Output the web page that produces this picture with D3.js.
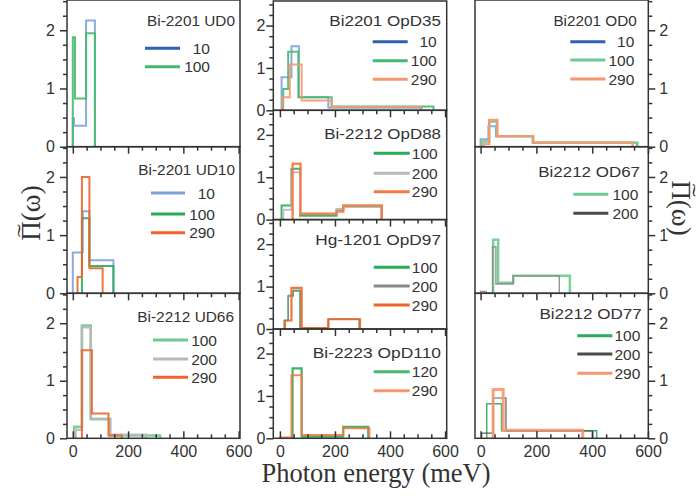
<!DOCTYPE html>
<html><head><meta charset="utf-8">
<script src="https://cdn.jsdelivr.net/npm/d3@7"></script>
<style>body{margin:0;background:#fff}svg{display:block}</style>
</head><body>
<svg id="c" width="700" height="496"></svg>
<script>
// ---------------- DATA ----------------
const xTickMajor = [0, 200, 400, 600];
const yTickMajor = [0, 1, 2];
const xLabel = "Photon energy (meV)";
const yLabelMain = "\u03A0(\u03C9)";
const yLabelTilde = "\u02DC";

const titles = ["Bi-2201 UD0","Bi-2201 UD10","Bi-2212 UD66",
  "Bi2201 OpD35","Bi-2212 OpD88","Hg-1201 OpD97","Bi-2223 OpD110",
  "Bi2201 OD0","Bi2212 OD67","Bi2212 OD77"];

// bin edges (meV) and heights, one pair per curve
const ud0_10_e = [0, 4, 48, 80],            ud0_10_v = [0.49, 0.36, 2.17];
const ud0_100_e = [0, 8, 48, 80],           ud0_100_v = [1.88, 0.83, 1.95];

const ud10_10_e = [0, 36, 60, 147],         ud10_10_v = [0.70, 1.41, 0.57];
const ud10_100_e = [33, 60, 147],           ud10_100_v = [1.29, 0.47];
const ud10_290_e = [17, 33, 60, 108],       ud10_290_v = [0.28, 2.00, 0.43];

const ud66_100_e = [5, 33, 65, 135, 316],   ud66_100_v = [0.20, 1.96, 0.33, 0.05];
const ud66_200_e = [10, 33, 65, 135, 265],  ud66_200_v = [0.15, 1.93, 0.34, 0.06];
const ud66_290_e = [33, 69, 129, 177],      ud66_290_v = [1.53, 0.43, 0.05];

const op35_10_e = [6, 42, 69, 176, 515],    op35_10_v = [0.78, 1.51, 0.31, 0.06];
const op35_100_e = [12, 30, 67, 188, 558],  op35_100_v = [0.50, 1.38, 0.31, 0.09];
const op35_290_e = [10, 36, 79, 188, 511],  op35_290_v = [0.31, 1.08, 0.23, 0.08];

const op88_100_e = [6, 42, 73, 206, 230, 370],  op88_100_v = [0.33, 1.20, 0.09, 0.23, 0.31];
const op88_200_e = [12, 42, 73, 206, 230, 370], op88_200_v = [0.23, 1.12, 0.14, 0.25, 0.31];
const op88_290_e = [46, 75, 206, 230, 370],     op88_290_v = [1.32, 0.14, 0.19, 0.33];

const op97_100_e = [16, 30, 48, 73, 176, 288], op97_100_v = [0.20, 0.78, 0.90, 0.02, 0.23];
const op97_200_e = [18, 30, 48, 75, 176, 290], op97_200_v = [0.20, 0.80, 0.92, 0.02, 0.23];
const op97_290_e = [18, 42, 79, 176, 291],     op97_290_v = [0.20, 0.97, 0.02, 0.23];

const op110_120_e = [46, 79, 230, 321],       op110_120_v = [1.65, 0.04, 0.27];
const op110_290_e = [0, 42, 79, 230, 325],    op110_290_v = [0.02, 1.49, 0.08, 0.24];

const od0_10_e = [0, 28, 55, 187, 560],       od0_10_v = [0.13, 0.35, 0.18, 0.07];
const od0_100_e = [4, 31, 58, 187, 562],      od0_100_v = [0.09, 0.43, 0.18, 0.07];
const od0_290_e = [10, 31, 60, 189, 545],     od0_290_v = [0.05, 0.46, 0.18, 0.07];

const od67_100_e = [45, 63, 117, 320],        od67_100_v = [0.92, 0.18, 0.30];
const od67_200_e = [0, 20, 43, 55, 117, 282], od67_200_v = [0.03, 0, 0.80, 0.16, 0.30];

const od77_100_e = [22, 75, 416],             od77_100_v = [0.60, 0.13];
const od77_200_e = [4, 45, 91, 400],          od77_200_v = [0.09, 0.70, 0.13];
const od77_290_e = [45, 81, 366],             od77_290_v = [0.85, 0.14];

// ---------------- STYLE / LAYOUT ----------------
const C = {
  blueD:'#2d62b3', blueL:'#7fa2da', green:'#27ad5a', greenM:'#45b96f', greenL:'#6ccb8e',
  orange:'#f0642a', orangeM:'#f47a45', orangeL:'#f6976f', grayL:'#b8b8b8', grayM:'#8a8a8a', grayD:'#4a4a4a'
};
const cols = [
  {x0:67,    x1:240,   dom:[-21,605], ymax:2.52, rows:[0,146.7,293.3,438.3], side:'left',  pad:12},
  {x0:273.3, x1:446.7, dom:[-24,606], ymax:2.58, rows:[1,110.3,219.6,329,438.3], side:'left', pad:8},
  {x0:475,   x1:648.3, dom:[-20,601], ymax:2.52, rows:[0,146.7,293.3,438.3], side:'right', pad:11}
];
function S(label,e,v,c,w){return {label,e,v,c,w:w||2};}
const panels = [
 {col:0,row:0,title:titles[0],tw:88,  tY:20.7,tEnd:5,  lr:[48.3,66.7],      l0:95,l1:60,lEnd:30,
  series:[S('10',ud0_10_e,ud0_10_v,C.blueL,2), S('100',ud0_100_e,ud0_100_v,C.greenM,2)], lc:[C.blueD,C.greenM]},
 {col:0,row:1,title:titles[1],tw:96.7,tY:22.6,tEnd:5,  lr:[46.3,67.3,86],   l0:89,l1:55,lEnd:25,
  series:[S('10',ud10_10_e,ud10_10_v,C.blueL), S('100',ud10_100_e,ud10_100_v,C.green), S('290',ud10_290_e,ud10_290_v,C.orange)]},
 {col:0,row:2,title:titles[2],tw:96.7,tY:22.7,tEnd:6,  lr:[46.7,65.7,84],   l0:87,l1:52,lEnd:23,
  series:[S('100',ud66_100_e,ud66_100_v,C.greenL,2.5), S('200',ud66_200_e,ud66_200_v,C.grayL,2.5), S('290',ud66_290_e,ud66_290_v,C.orange)]},
 {col:1,row:0,title:titles[3],tw:111.7,tY:19,  tEnd:5.7,lr:[40.7,59.7,78.3], l0:74,l1:39,lEnd:10,
  series:[S('10',op35_10_e,op35_10_v,C.blueL), S('100',op35_100_e,op35_100_v,C.greenM), S('290',op35_290_e,op35_290_v,C.orangeL)], lc:[C.blueD,C.greenM,C.orangeL]},
 {col:1,row:1,title:titles[4],tw:116.7,tY:23,  tEnd:5.7,lr:[43,63,81.4],     l0:73,l1:37,lEnd:9,
  series:[S('100',op88_100_e,op88_100_v,C.green), S('200',op88_200_e,op88_200_v,C.grayL), S('290',op88_290_e,op88_290_v,C.orangeM,2.5)]},
 {col:1,row:2,title:titles[5],tw:125.7,tY:19.7,tEnd:5.7,lr:[47.7,66.4,85.4], l0:73,l1:37,lEnd:9,
  series:[S('100',op97_100_e,op97_100_v,C.green,1.6), S('200',op97_200_e,op97_200_v,C.grayM,1), S('290',op97_290_e,op97_290_v,C.orange,2.2)]},
 {col:1,row:3,title:titles[6],tw:128.3,tY:23.3,tEnd:5.7,lr:[42.7,61.7],      l0:73,l1:37,lEnd:9,
  series:[S('120',op110_120_e,op110_120_v,C.green,2.2), S('290',op110_290_e,op110_290_v,C.orangeM,2)], lc:[C.greenM,C.orangeL]},
 {col:2,row:0,title:titles[7],tw:83.3,tY:20,  tEnd:11.6,lr:[41.7,60,79],     l0:78,l1:43,lEnd:14,
  series:[S('10',od0_10_e,od0_10_v,C.blueL), S('100',od0_100_e,od0_100_v,C.greenL,2.2), S('290',od0_290_e,od0_290_v,C.orangeL,2.5)], lc:[C.blueD,C.greenL,C.orangeL]},
 {col:2,row:1,title:titles[8],tw:101.7,tY:25, tEnd:8.3,lr:[47.6,66.6],       l0:75,l1:40,lEnd:10,
  series:[S('100',od67_100_e,od67_100_v,C.greenL,2.5), S('200',od67_200_e,od67_200_v,C.grayM,1.4)], lc:[C.greenL,C.grayD]},
 {col:2,row:2,title:titles[9],tw:102.3,tY:20, tEnd:6.6,lr:[42.4,60.7,80],    l0:71,l1:36,lEnd:8,
  series:[S('100',od77_100_e,od77_100_v,C.green,1.5), S('200',od77_200_e,od77_200_v,C.grayD,1.2), S('290',od77_290_e,od77_290_v,C.orangeL,3)], lc:[C.green,C.grayD,C.orangeL]}
];

const sans = "'Liberation Sans', Arial, Helvetica, sans-serif";
const serif = "'Liberation Serif', 'Times New Roman', serif";
const ink = '#333';

const svg = d3.select('#c');

function steps(e, v) {
  const pts = [[e[0], 0]];
  for (let i = 0; i < v.length; i++) { pts.push([e[i], v[i]]); pts.push([e[i+1], v[i]]); }
  pts.push([e[e.length-1], 0]);
  return pts;
}

panels.forEach(p => {
  const col = cols[p.col];
  const top = col.rows[p.row], bot = col.rows[p.row+1];
  const isBottom = p.row === col.rows.length - 2;
  const x = d3.scaleLinear().domain(col.dom).range([col.x0, col.x1]);
  const y = d3.scaleLinear().domain([0, col.ymax]).range([bot, top]);
  const g = svg.append('g');

  const cid = 'clip' + p.col + p.row;
  svg.append('clipPath').attr('id', cid).append('rect')
    .attr('x', col.x0).attr('y', top).attr('width', col.x1 - col.x0).attr('height', bot - top);

  const line = d3.line().x(d => x(d[0])).y(d => y(d[1]));
  const dg = g.append('g').attr('clip-path', `url(#${cid})`);
  p.series.forEach(s => {
    dg.append('path').attr('d', line(steps(s.e, s.v)))
      .attr('fill', 'none').attr('stroke', s.c).attr('stroke-width', s.w)
      .attr('stroke-linejoin', 'miter').attr('opacity', 0.9);
  });

  g.append('rect').attr('x', col.x0).attr('y', top).attr('width', col.x1 - col.x0).attr('height', bot - top)
    .attr('fill', 'none').attr('stroke', ink).attr('stroke-width', 1.5);

  const minorX = d3.range(0, 601, 50).filter(v => !xTickMajor.includes(v));
  const mkX = (axisFn, at) => {
    const a1 = g.append('g').attr('transform', `translate(0,${at})`)
      .call(axisFn(x).tickValues(minorX).tickSize(4).tickFormat(''));
    const a2 = g.append('g').attr('transform', `translate(0,${at})`)
      .call(axisFn(x).tickValues(xTickMajor).tickSize(7).tickFormat(''));
    [a1, a2].forEach(a => { a.select('.domain').remove(); a.selectAll('line').attr('stroke', ink).attr('stroke-width', 1.5); });
  };
  if (p.row > 0) mkX(d3.axisBottom, top);
  if (isBottom) {
    mkX(d3.axisTop, bot);
    const lab = g.append('g').attr('transform', `translate(0,${bot})`)
      .call(d3.axisBottom(x).tickValues(xTickMajor).tickSize(0).tickPadding(7).tickFormat(d3.format('d')));
    lab.select('.domain').remove();
    lab.selectAll('text').attr('font-family', sans).attr('font-size', 16).attr('fill', ink);
  }

  const yAxisFn = col.side === 'left' ? d3.axisLeft : d3.axisRight;
  const yEdge = col.side === 'left' ? col.x0 : col.x1;
  const minorY = d3.range(0, col.ymax, 0.25).filter(v => !yTickMajor.includes(v));
  const ya1 = g.append('g').attr('transform', `translate(${yEdge},0)`)
    .call(yAxisFn(y).tickValues(minorY).tickSize(4).tickFormat(''));
  const ya2 = g.append('g').attr('transform', `translate(${yEdge},0)`)
    .call(yAxisFn(y).tickValues(yTickMajor).tickSize(7).tickFormat(''));
  [ya1, ya2].forEach(a => { a.select('.domain').remove(); a.selectAll('line').attr('stroke', ink).attr('stroke-width', 1.5); });
  const yl = g.append('g').attr('transform', `translate(${yEdge},0)`)
    .call(yAxisFn(y).tickValues(yTickMajor).tickSize(0).tickPadding(col.pad).tickFormat(d3.format('d')));
  yl.select('.domain').remove();
  yl.selectAll('text').attr('font-family', sans).attr('font-size', 16).attr('fill', ink);

  g.append('text').attr('x', col.x1 - p.tEnd).attr('y', top + p.tY).attr('dy', '0.36em')
    .attr('text-anchor', 'end').attr('font-family', sans).attr('font-size', 15.5).attr('fill', ink)
    .attr('textLength', p.tw).attr('lengthAdjust', 'spacingAndGlyphs').text(p.title);

  p.series.forEach((s, i) => {
    const ly = top + p.lr[i];
    g.append('line').attr('x1', col.x1 - p.l0).attr('x2', col.x1 - p.l1).attr('y1', ly).attr('y2', ly)
      .attr('stroke', p.lc ? p.lc[i] : s.c).attr('stroke-width', 3);
    g.append('text').attr('x', col.x1 - p.lEnd).attr('y', ly).attr('dy', '0.36em')
      .attr('text-anchor', 'end').attr('font-family', sans).attr('font-size', 15.5).attr('fill', ink).text(s.label);
  });
});

// axis titles
svg.append('text').attr('x', 376).attr('y', 482).attr('text-anchor', 'middle')
  .attr('font-family', serif).attr('font-size', 26.5).attr('fill', ink).text(xLabel);

function yTitle(tx, ty, rot) {
  const g = svg.append('g').attr('transform', `translate(${tx},${ty}) rotate(${rot})`);
  const t = g.append('text').attr('text-anchor', 'middle')
    .attr('font-family', serif).attr('font-size', 27).attr('fill', ink).text(yLabelMain);
  const n = t.node();
  const a = n.getStartPositionOfChar(0).x, b = n.getEndPositionOfChar(0).x;
  const tw = 13;
  g.append('text').attr('x', (a + b) / 2 - tw / 2).attr('y', -8.5)
    .attr('font-family', serif).attr('font-size', 20).attr('fill', ink)
    .attr('textLength', tw).attr('lengthAdjust', 'spacingAndGlyphs').text(yLabelTilde);
}
yTitle(40, 213, -90);
yTitle(672, 208, 90);
</script>
</body></html>
